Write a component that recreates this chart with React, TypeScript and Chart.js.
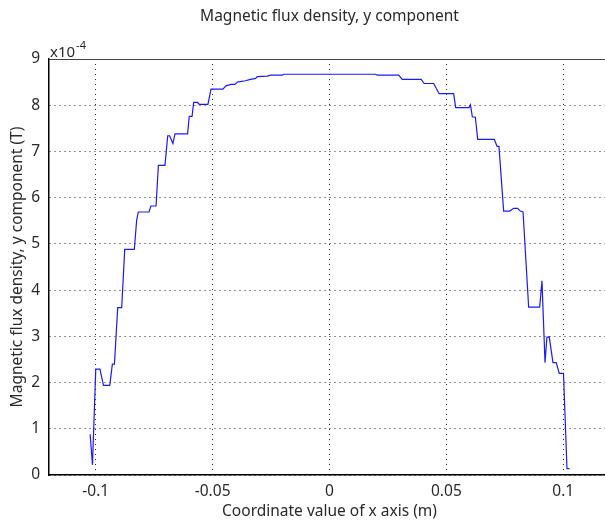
import React, { useEffect, useRef } from "react";
import { Chart, registerables } from "chart.js";

Chart.register(...registerables);

// x coordinate (m)
const xValues = [
  -0.1024, -0.1014, -0.1, -0.0982, -0.0967, -0.094, -0.0929, -0.092, -0.0906, -0.0889,
  -0.0876, -0.0835, -0.0825, -0.0818, -0.0772, -0.0764, -0.0742, -0.0732, -0.0704, -0.0692,
  -0.0684, -0.067, -0.0661, -0.0607, -0.06, -0.0588, -0.0581, -0.0565, -0.0557, -0.052,
  -0.0507, -0.0456, -0.0443, -0.0422, -0.0405, -0.0394, -0.036, -0.0338, -0.0316, -0.0309,
  -0.0266, -0.0252, -0.0202, -0.0195, 0.0197, 0.0204, 0.0296, 0.0311, 0.0392, 0.0405,
  0.0446, 0.0469, 0.0531, 0.054, 0.0597, 0.0603, 0.0611, 0.0624, 0.0634, 0.0705,
  0.0717, 0.0725, 0.0745, 0.0771, 0.0788, 0.0805, 0.0816, 0.0828, 0.0852, 0.0899,
  0.0909, 0.0922, 0.093, 0.094, 0.0956, 0.097, 0.0983, 0.1001, 0.1016, 0.1027,
];

// By (x1e-4 T)
const byValues = [
  0.88, 0.22, 2.29, 2.29, 1.94, 1.94, 2.4, 2.4, 3.62, 3.62,
  4.88, 4.88, 5.51, 5.69, 5.69, 5.82, 5.82, 6.7, 6.7, 7.34,
  7.34, 7.17, 7.38, 7.38, 7.76, 7.76, 8.06, 8.06, 8.02, 8.02,
  8.35, 8.35, 8.42, 8.45, 8.45, 8.5, 8.53, 8.56, 8.58, 8.62,
  8.63, 8.65, 8.65, 8.67, 8.67, 8.65, 8.65, 8.56, 8.56, 8.47,
  8.47, 8.25, 8.25, 7.95, 7.95, 8.01, 7.75, 7.74, 7.26, 7.26,
  7.11, 7.11, 5.71, 5.71, 5.77, 5.77, 5.71, 5.69, 3.63, 3.63,
  4.2, 2.43, 2.98, 2.99, 2.43, 2.43, 2.2, 2.2, 0.14, 0.14,
];

const xTicks = [-0.1, -0.05, 0, 0.05, 0.1];
const yTicks = [0, 1, 2, 3, 4, 5, 6, 7, 8, 9];

const titleText = "Magnetic flux density, y component";
const xTitle = "Coordinate value of x axis (m)";
const yTitle = "Magnetic flux density, y component (T)";

const FONT = "'Noto Sans', 'DejaVu Sans', sans-serif";
const TEXT = "#2a2a2a";

const textPlugin = {
  id: "texts",
  afterDraw(chart: any) {
    const { ctx, chartArea } = chart;
    const cx = (chartArea.left + chartArea.right) / 2;
    const cy = (chartArea.top + chartArea.bottom) / 2;
    ctx.save();
    // top border of the frame
    ctx.strokeStyle = "#444";
    ctx.lineWidth = 1;
    ctx.beginPath();
    ctx.moveTo(chartArea.left, chartArea.top + 0.5);
    ctx.lineTo(chartArea.right, chartArea.top + 0.5);
    ctx.stroke();

    ctx.fillStyle = TEXT;
    ctx.font = `15.5px ${FONT}`;
    ctx.textAlign = "center";
    ctx.textBaseline = "middle";
    ctx.fillText(titleText, cx, 17);
    ctx.fillText(xTitle, cx, 512);

    ctx.save();
    ctx.translate(18, cy);
    ctx.rotate(-Math.PI / 2);
    ctx.fillText(yTitle, 0, 0);
    ctx.restore();

    // exponent label
    ctx.textAlign = "left";
    ctx.textBaseline = "alphabetic";
    ctx.font = `15px ${FONT}`;
    ctx.fillText("x10", 50, 57);
    const w = ctx.measureText("x10").width;
    ctx.font = `11px ${FONT}`;
    ctx.fillText("-4", 50 + w + 1, 49);
    ctx.restore();
  },
};

export default function App() {
  const ref = useRef<HTMLCanvasElement>(null);
  useEffect(() => {
    if (!ref.current) return;
    const data = xValues.map((x, i) => ({ x, y: byValues[i] }));
    const gridOpts = {
      color: "rgba(0,0,0,0.85)",
      lineWidth: 1,
      drawTicks: false,
      tickLength: 0,
    };
    const chart = new Chart(ref.current, {
      type: "line",
      data: {
        datasets: [
          {
            data,
            borderColor: "#1a1aff",
            borderWidth: 1.2,
            pointRadius: 0,
            tension: 0,
            fill: false,
          },
        ],
      },
      options: {
        animation: false,
        responsive: false,
        maintainAspectRatio: false,
        layout: { padding: { top: 59, right: 10, left: 0, bottom: 0 } },
        plugins: { legend: { display: false }, tooltip: { enabled: false }, title: { display: false } },
        scales: {
          x: {
            type: "linear",
            min: -0.12,
            max: 0.12,
            afterBuildTicks: (s: any) => {
              s.ticks = xTicks.map((v) => ({ value: v }));
            },
            afterFit: (s: any) => {
              s.height = 49;
            },
            ticks: {
              padding: 7,
              color: TEXT,
              font: { family: FONT, size: 15.5 },
              callback: (v: any) => String(Math.round(Number(v) * 1000) / 1000),
              maxRotation: 0,
              autoSkip: false,
            },
            grid: gridOpts,
            border: { display: true, color: "#000", width: 1.5, dash: [1, 4] },
          },
          y: {
            type: "linear",
            min: 0,
            max: 9,
            afterBuildTicks: (s: any) => {
              s.ticks = yTicks.map((v) => ({ value: v }));
            },
            afterFit: (s: any) => {
              s.width = 49;
            },
            ticks: {
              padding: 9,
              color: TEXT,
              font: { family: FONT, size: 15.5 },
              autoSkip: false,
            },
            grid: gridOpts,
            border: { display: true, color: "#000", width: 1.5, dash: [1, 4] },
          },
        },
      } as any,
      plugins: [textPlugin],
    });
    return () => chart.destroy();
  }, []);

  return (
    <div
      style={{
        position: "fixed",
        left: 0,
        top: 0,
        width: 605,
        height: 524,
        overflow: "hidden",
        background: "#fff",
      }}
    >
      <canvas ref={ref} width={620} height={524} style={{ width: 620, height: 524, display: "block" }} />
    </div>
  );
}
